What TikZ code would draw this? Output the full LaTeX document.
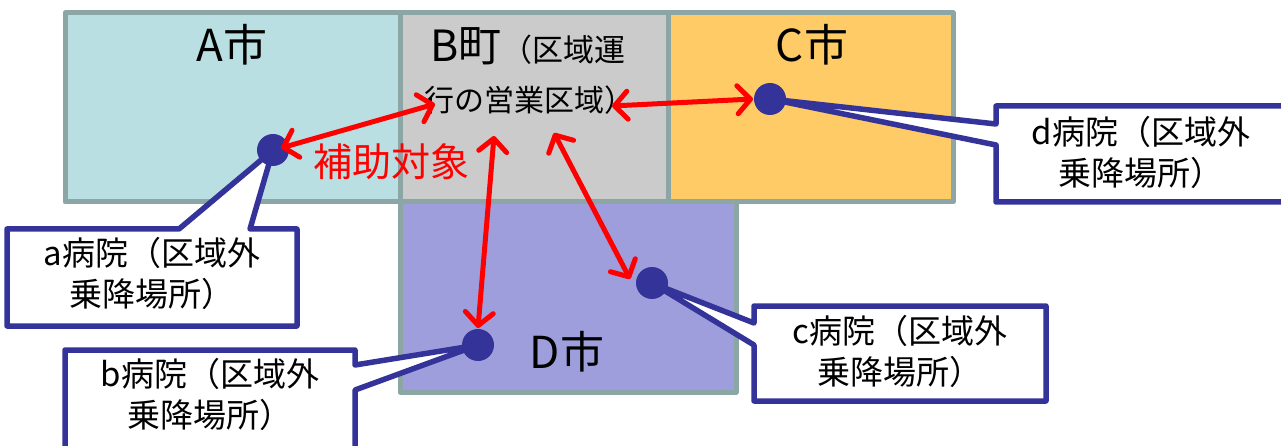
\documentclass[tikz,border=0pt]{standalone}
\usepackage{fontspec}
\newfontfamily\jp{Noto Sans CJK JP}
\usetikzlibrary{arrows.meta}
\definecolor{regA}{HTML}{B9DFE3}
\definecolor{regB}{HTML}{CBCBCB}
\definecolor{regC}{HTML}{FECB66}
\definecolor{regD}{HTML}{9E9EDD}
\definecolor{rim}{HTML}{8CA5A5}
\definecolor{navy}{HTML}{333399}
\newcommand\fsz[2]{\fontsize{#1}{#2}\selectfont}
\begin{document}
\begin{tikzpicture}[x=1pt,y=-1pt,
  region/.style={draw=rim,line width=5pt,line join=round},
  regionlabel/.style={font=\jp\fsz{44}{50},anchor=base,inner sep=0pt},
  callbox/.style={draw=navy,fill=white,line width=5.5pt,line join=round},
  calltext/.style={font=\jp\fsz{33}{41},align=center,inner sep=0pt,anchor=center},
  dot/.style={circle,fill=navy,minimum size=32pt,inner sep=0pt},
  link/.style={draw=red,line width=5pt,line cap=round,
    arrows={Straight Barb[length=13pt,width=28pt,round]-Straight Barb[length=13pt,width=28pt,round]}}
]
\path[use as bounding box,clip] (0,0) rectangle (1281,446);

% regions
\draw[region,fill=regA] (65,13) rectangle (400,202);
\draw[region,fill=regC] (668,13) rectangle (953,202);
\draw[region,fill=regD] (400,202) rectangle (736,392);
\draw[region,fill=regB] (400,13) rectangle (668,202);

% region labels
\node[regionlabel] (labA) at (232,62) {A市};
\node[regionlabel] (labC) at (812,62) {C市};
\node[regionlabel] (labD) at (567,368) {D市};
\node[font=\jp,anchor=base west,inner sep=0pt] (labB1) at (430,62) {{\fsz{43}{50}B町}{\fsz{31}{36}（区域運}};
\node[font=\jp\fsz{30}{34},anchor=base west,inner sep=0pt] (labB2) at (424,112) {行の営業区域）};
\node[font=\jp\fsz{39}{44},text=red,anchor=base,inner sep=0pt] (aid) at (391,177) {補助対象};

% hospital points
\coordinate (pa) at (273,150);
\coordinate (pb) at (478,345);
\coordinate (pc) at (652,283);
\coordinate (pd) at (770,99);

% callouts
\draw[callbox] (7,229) -- (179,229) -- (pa) -- (250,229) -- (297,229) -- (297,326) -- (7,326) -- cycle;
\node[calltext] (hospA) at (152,273) {a病院（区域外\\乗降場所）};

\draw[callbox] (65,350) -- (355,350) -- (355,365) -- (pb) -- (355,390) -- (355,470) -- (65,470) -- cycle;
\node[calltext] (hospB) at (210,394) {b病院（区域外\\乗降場所）};

\draw[callbox] (754,306) -- (1046,306) -- (1046,401) -- (754,401) -- (754,345) -- (pc) -- (754,323) -- cycle;
\node[calltext] (hospC) at (900,351) {c病院（区域外\\乗降場所）};

\draw[callbox] (996,106) -- (1295,106) -- (1295,202) -- (996,202) -- (996,145) -- (pd) -- (996,124) -- cycle;
\node[calltext] (hospD) at (1141,152) {d病院（区域外\\乗降場所）};

% dots
\node[dot] (dotA) at (pa) {};
\node[dot] (dotB) at (pb) {};
\node[dot] (dotC) at (pc) {};
\node[dot] (dotD) at (pd) {};

% red arrows
\coordinate (aEnd) at (281,148);
\coordinate (bWest) at (435,104);
\coordinate (bEast) at (612,106);
\coordinate (dEnd) at (753,99);
\coordinate (bSouthA) at (494,136);
\coordinate (bEnd) at (478,328);
\coordinate (bSouthB) at (554,133);
\coordinate (cEnd) at (630,279);
\draw[link] (aEnd) -- (bWest);
\draw[link] (bEast) -- (dEnd);
\draw[link] (bSouthA) -- (bEnd);
\draw[link] (bSouthB) -- (cEnd);
\end{tikzpicture}
\end{document}
